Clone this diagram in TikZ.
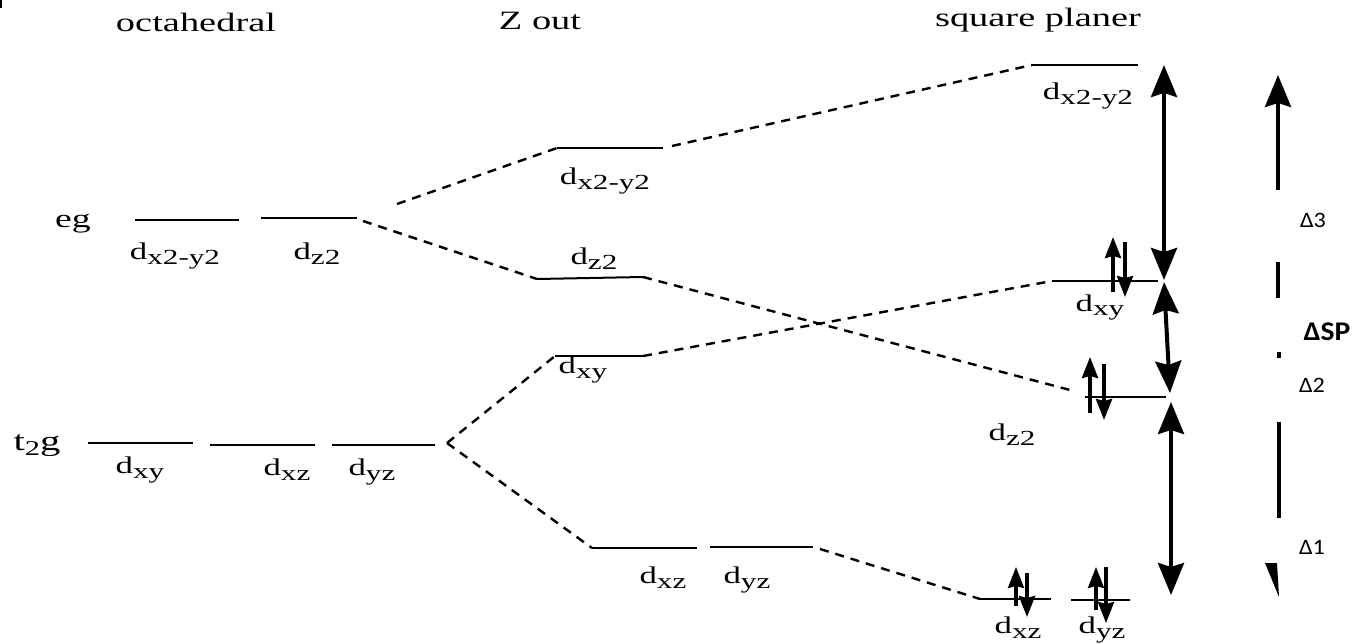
\documentclass[tikz,border=0pt]{standalone}
\usepackage{fontspec}
\setmainfont[FakeStretch=1.45]{Liberation Serif}
\newfontfamily\dsans[FakeStretch=1.1]{Carlito}
\usetikzlibrary{arrows.meta}
\newcommand\dorb[1]{d\raisebox{-5pt}{\fontsize{21.5pt}{22pt}\selectfont #1}}
\tikzset{
  lvl/.style={line width=2pt},
  conn/.style={line width=2.4pt, dash pattern=on 9pt off 7pt},
  bigarrow/.style={line width=4pt, {Stealth[length=32pt,width=26pt,inset=4pt]}-{Stealth[length=32pt,width=26pt,inset=4pt]}},
  uparrow/.style={line width=4pt, -{Stealth[length=32pt,width=26pt,inset=4pt]}},
  elec/.style={line width=3.5pt, -{Stealth[length=21pt,width=16pt,inset=2pt]}},
  title/.style={font=\fontsize{26.5pt}{28pt}\selectfont, anchor=base, inner sep=0pt},
  lab/.style={font=\fontsize{24pt}{25pt}\selectfont, anchor=base, inner sep=0pt},
  dlab/.style={font=\dsans\fontsize{22pt}{23pt}\selectfont, inner sep=0pt},
}
\begin{document}
\begin{tikzpicture}[x=1pt,y=-1pt]
\useasboundingbox (0,0) rectangle (1370,644);
\draw[line width=2pt] (1,0) -- (1,8);
% titles
\node[title] (t1) at (196,32) {octahedral};
\node[title] (t2) at (540,30) {Z out};
\node[title] (t3) at (1038,27) {square planer};
% octahedral levels
\coordinate (egA1) at (135,220); \coordinate (egA2) at (239,220);
\coordinate (egB1) at (261,218); \coordinate (egB2) at (357,218);
\coordinate (tA1) at (88,443);  \coordinate (tA2) at (193,443);
\coordinate (tB1) at (210,445); \coordinate (tB2) at (315,445);
\coordinate (tC1) at (332,445); \coordinate (tC2) at (435,445);
\draw[lvl] (egA1) -- (egA2); \draw[lvl] (egB1) -- (egB2);
\draw[lvl] (tA1) -- (tA2); \draw[lvl] (tB1) -- (tB2); \draw[lvl] (tC1) -- (tC2);
\node[lab, font=\fontsize{26pt}{27pt}\selectfont] (eg) at (73,228) {eg};
\node[lab, font=\fontsize{28pt}{29pt}\selectfont] (t2g) at (37,450) {t\raisebox{-5pt}{\fontsize{21pt}{21pt}\selectfont 2}g};
\node[lab] (o1) at (175,260) {\dorb{x2-y2}};
\node[lab] (o2) at (317,260) {\dorb{z2}};
\node[lab] (o3) at (140,473) {\dorb{xy}};
\node[lab] (o4) at (287,475) {\dorb{xz}};
\node[lab] (o5) at (372,475) {\dorb{yz}};
% Z out levels
\coordinate (zX1) at (557,148); \coordinate (zX2) at (663,148);
\coordinate (zZ1) at (537,279); \coordinate (zZ2) at (643,277);
\coordinate (zY1) at (555,356); \coordinate (zY2) at (643,356);
\coordinate (zXZ1) at (592,548); \coordinate (zXZ2) at (697,548);
\coordinate (zYZ1) at (710,547); \coordinate (zYZ2) at (813,547);
\draw[lvl] (zX1) -- (zX2); \draw[lvl] (zZ1) -- (zZ2); \draw[lvl] (zY1) -- (zY2);
\draw[lvl] (zXZ1) -- (zXZ2); \draw[lvl] (zYZ1) -- (zYZ2);
\node[lab] (z1) at (605,185) {\dorb{x2-y2}};
\node[lab] (z2) at (594,265) {\dorb{z2}};
\node[lab] (z3) at (583,373) {\dorb{xy}};
\node[lab] (z4) at (663,583) {\dorb{xz}};
\node[lab] (z5) at (747,583) {\dorb{yz}};
% square planar levels
\coordinate (sX1) at (1032,65); \coordinate (sX2) at (1138,65);
\coordinate (sY1) at (1052,281); \coordinate (sY2) at (1158,281);
\coordinate (sZ1) at (1085,397); \coordinate (sZ2) at (1166,397);
\coordinate (sXZ1) at (980,599); \coordinate (sXZ2) at (1051,599);
\coordinate (sYZ1) at (1071,600); \coordinate (sYZ2) at (1130,600);
\draw[lvl] (sX1) -- (sX2); \draw[lvl] (sY1) -- (sY2); \draw[lvl] (sZ1) -- (sZ2);
\draw[lvl] (sXZ1) -- (sXZ2); \draw[lvl] (sYZ1) -- (sYZ2);
\node[lab] (s1) at (1088,100) {\dorb{x2-y2}};
\node[lab] (s2) at (1100,311) {\dorb{xy}};
\node[lab] (s3) at (1012,440) {\dorb{z2}};
\node[lab] (s4) at (1018,633) {\dorb{xz}};
\node[lab] (s5) at (1102,633) {\dorb{yz}};
% dashed connectors
\coordinate (egU) at (397,204);
\coordinate (egL) at (363,221);
\coordinate (tR) at (447,443);
\coordinate (zXr) at (672,146);
\coordinate (sZl) at (1070,390);
\coordinate (zYZr) at (820,549);
\draw[conn] (egU) -- (zX1);
\draw[conn] (egL) -- (zZ1);
\draw[conn] (tR) -- (zY1);
\draw[conn] (tR) -- (zXZ1);
\draw[conn] (zXr) -- (sX1);
\draw[conn] (zZ2) -- (sZl);
\draw[conn] (zY2) -- (sY1);
\draw[conn] (zYZr) -- (sXZ1);
% electrons
\draw[elec] (1113,292) -- (1113,237); \draw[elec] (1125,242) -- (1125,297);
\draw[elec] (1090,413) -- (1090,357); \draw[elec] (1104,364) -- (1104,420);
\draw[elec] (1016,606) -- (1016,567); \draw[elec] (1027,573) -- (1027,617);
\draw[elec] (1096,610) -- (1096,567); \draw[elec] (1106,567) -- (1106,623);
% gap arrows
\coordinate (g1) at (1164,65); \coordinate (g2) at (1164,280);
\coordinate (g3) at (1164,282); \coordinate (g4) at (1170,393);
\coordinate (g5) at (1171,402); \coordinate (g6) at (1171,595);
\draw[bigarrow] (g1) -- (g2);
\draw[bigarrow] (g3) -- (g4);
\draw[bigarrow] (g5) -- (g6);
% right column
\coordinate (r1) at (1278,190); \coordinate (r2) at (1278,75);
\draw[uparrow] (r1) -- (r2);
\draw[line width=4pt] (1278,262) -- (1278,298);
\draw[line width=4pt] (1279,352) -- (1279,358);
\draw[line width=4pt] (1279,422) -- (1279,518);
\fill (1265,563) -- (1277,563) -- (1279,597) -- cycle;
\node[dlab] (d3) at (1313,220) {Δ3};
\node[dlab, font=\dsans\bfseries\fontsize{27pt}{28pt}\selectfont] (dsp) at (1327,332) {ΔSP};
\node[dlab] (d2) at (1312,385) {Δ2};
\node[dlab] (d1) at (1312,547) {Δ1};
\end{tikzpicture}
\end{document}
